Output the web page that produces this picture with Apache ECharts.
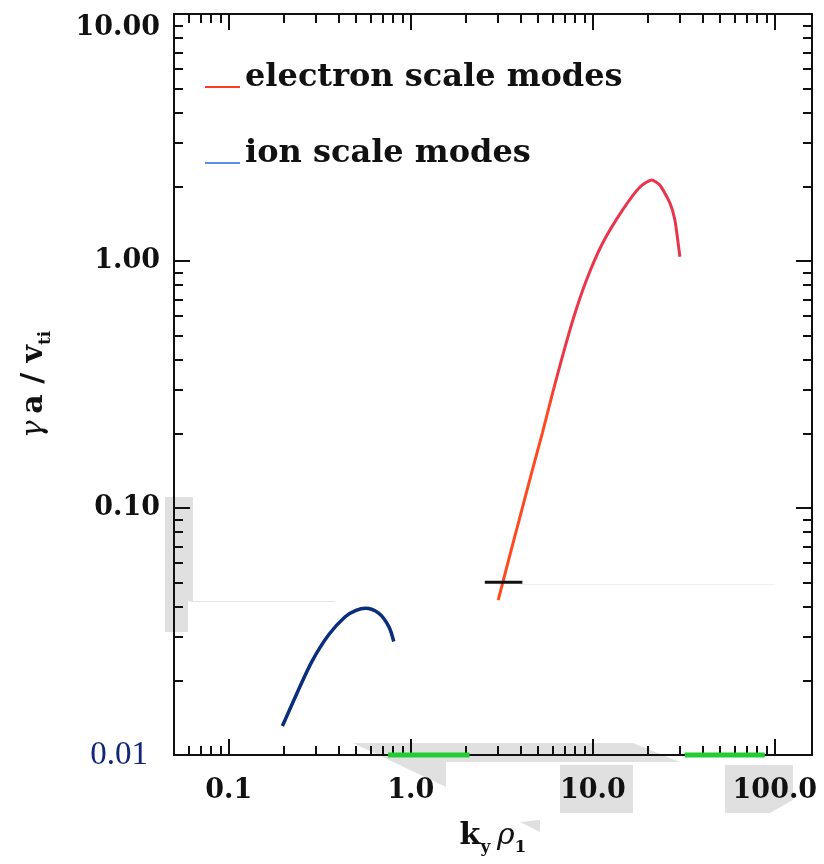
<!DOCTYPE html>
<html>
<head>
<meta charset="utf-8">
<title>growth rates</title>
<script src="https://cdn.jsdelivr.net/npm/echarts@6/dist/echarts.min.js"></script>
<style>
  html, body { margin: 0; padding: 0; background: #fff; }
  #main { width: 824px; height: 864px; }
</style>
</head>
<body>
<div id="main"></div>
<script>
// axis ranges and ticks
var xRange = [0.05, 160];
var yRange = [0.01, 10];
var xMajor = [0.1, 1, 10, 100];
var xMinor = [0.06, 0.07, 0.08, 0.09, 0.2, 0.3, 0.4, 0.5, 0.6, 0.7, 0.8, 0.9,
              2, 3, 4, 5, 6, 7, 8, 9, 20, 30, 40, 50, 60, 70, 80, 90];
var yMajor = [0.01, 0.1, 1, 10];
var yMinor = [0.02, 0.03, 0.04, 0.05, 0.06, 0.07, 0.08, 0.09,
              0.2, 0.3, 0.4, 0.5, 0.6, 0.7, 0.8, 0.9,
              2, 3, 4, 5, 6, 7, 8, 9];

// ion scale modes
var ionK     = [0.197, 0.241, 0.286, 0.353, 0.436, 0.50, 0.563, 0.666, 0.757, 0.806];
var ionGamma = [0.0131, 0.0183, 0.0239, 0.0306, 0.0363, 0.0385, 0.0393, 0.0375, 0.0331, 0.0288];

// electron scale modes
var elecK     = [3.02, 3.47, 3.99, 4.59, 5.28, 5.99, 6.72, 7.83, 9.23, 11.31, 14.58, 18.1, 21.08, 23.33, 26.49, 28.22, 30.08];
var elecGamma = [0.0424, 0.0628, 0.0928, 0.137, 0.201, 0.289, 0.397, 0.588, 0.838, 1.18, 1.61, 1.99, 2.13, 2.03, 1.72, 1.47, 1.04];

// black marker and green ranges on the axis
var markK = [2.55, 4.1];
var markGamma = [0.05, 0.05];
var band1K = [0.75, 2.1];
var band2K = [32, 88];
var bandGamma = [0.01, 0.01];

function pairs(xs, ys) {
    return xs.map(function (x, i) { return [x, ys[i]]; });
}

var serif = 'DejaVu Serif';
var black = '#111';

function logAxis(range, pos, values, len, showLine, label) {
    return {
        type: 'log',
        min: range[0],
        max: range[1],
        position: pos,
        axisLine: { show: showLine, onZero: false, lineStyle: { color: black, width: 2 } },
        axisTick: { show: true, inside: true, length: len, customValues: values,
                    lineStyle: { color: black, width: 2 } },
        axisLabel: label || { show: false },
        splitLine: { show: false },
        minorTick: { show: false }
    };
}

var xLabel = {
    show: true,
    customValues: xMajor,
    margin: 22,
    color: black,
    fontFamily: serif,
    fontWeight: 'bold',
    fontSize: 27,
    formatter: function (v) { return v.toFixed(1); }
};
var yLabel = {
    show: true,
    customValues: yMajor,
    margin: 14,
    color: black,
    fontFamily: serif,
    fontWeight: 'bold',
    fontSize: 27,
    verticalAlignMaxLabel: 'top',
    formatter: function (v) {
        if (Math.abs(v - 0.01) < 1e-9) return '{b|0.01}';
        return v.toFixed(2);
    },
    rich: {
        b: { color: '#14267a', fontFamily: 'Liberation Serif', fontWeight: 'normal', fontSize: 33, padding: [0, 12, 0, 0] }
    }
};

var xBottom = logAxis(xRange, 'bottom', xMajor, 16, true, xLabel);
xBottom.name = '{k|k}{s|y}  {r|ρ}{s|1}';
xBottom.nameLocation = 'middle';
xBottom.nameGap = 61;
xBottom.nameTextStyle = {
    rich: {
        k: { fontFamily: serif, fontWeight: 'bold', fontSize: 30, color: black, lineHeight: 40 },
        r: { fontFamily: serif, fontStyle: 'italic', fontSize: 30, color: black, lineHeight: 40 },
        s: { fontFamily: serif, fontWeight: 'bold', fontSize: 17, color: black, verticalAlign: 'bottom', lineHeight: 18 }
    }
};

var yLeft = logAxis(yRange, 'left', yMajor, 16, true, yLabel);
yLeft.name = '{g|γ}  {n|a / v}{s|ti}';
yLeft.nameLocation = 'middle';
yLeft.nameRotate = 90;
yLeft.nameGap = 120;
yLeft.nameTextStyle = {
    rich: {
        g: { fontFamily: serif, fontStyle: 'italic', fontSize: 30, color: black, lineHeight: 40 },
        n: { fontFamily: serif, fontWeight: 'bold', fontSize: 30, color: black, lineHeight: 40 },
        s: { fontFamily: serif, fontWeight: 'bold', fontSize: 17, color: black, verticalAlign: 'bottom', lineHeight: 18 }
    }
};

var gray = '#e0e0e0';
function poly(pts, fill) {
    return { type: 'polygon', z: -10, silent: true, shape: { points: pts }, style: { fill: fill || gray } };
}
function hline(x1, x2, y, c) {
    return { type: 'line', z: -10, silent: true, shape: { x1: x1, y1: y, x2: x2, y2: y }, style: { stroke: c, lineWidth: 1 } };
}

var myChart = echarts.init(document.getElementById('main'));

var option = {
    backgroundColor: '#fff',
    animation: false,
    grid: { left: 174, right: 12, top: 14, bottom: 109, outerBoundsMode: 'none', containLabel: false },
    legend: {
        orient: 'vertical',
        left: 200,
        top: 57,
        itemGap: 26,
        itemWidth: 35,
        itemHeight: 2,
        icon: 'rect',
        formatter: '{t|{name}}',
        textStyle: {
            fontFamily: serif, fontWeight: 'bold', fontSize: 32, color: black,
            rich: {
                t: { fontFamily: serif, fontWeight: 'bold', fontSize: 32, color: black,
                     lineHeight: 34, padding: [0, 0, 18, 0] }
            }
        },
        data: [
            { name: 'electron scale modes', itemStyle: { color: '#ff3b1f' } },
            { name: 'ion scale modes', itemStyle: { color: '#5b8cf0' } }
        ]
    },
    graphic: [
        poly([[165, 497], [193, 497], [193, 601], [188, 601], [188, 632], [165, 632]]),
        hline(190, 335, 601.5, '#e4e4e4'),
        hline(520, 775, 584.5, '#f0f0f0'),
        poly([[353, 743], [633, 743], [680, 762], [446, 762], [446, 787]]),
        poly([[560, 765], [633, 765], [633, 813], [560, 813]]),
        poly([[725, 765], [793, 765], [793, 800], [770, 813], [725, 813]]),
        poly([[520, 822], [540, 820], [540, 832]])
    ],
    xAxis: [
        xBottom,
        logAxis(xRange, 'bottom', xMinor, 9, false),
        logAxis(xRange, 'top', xMajor, 16, true),
        logAxis(xRange, 'top', xMinor, 9, false)
    ],
    yAxis: [
        yLeft,
        logAxis(yRange, 'left', yMinor, 9, false),
        logAxis(yRange, 'right', yMajor, 16, true),
        logAxis(yRange, 'right', yMinor, 9, false)
    ],
    series: [
        {
            name: 'electron scale modes',
            type: 'line',
            data: pairs(elecK, elecGamma),
            smooth: 0.2,
            showSymbol: false,
            lineStyle: {
                width: 3,
                color: new echarts.graphic.LinearGradient(0, 0, 0, 1, [
                    { offset: 0, color: '#e8344e' },
                    { offset: 0.45, color: '#ec3846' },
                    { offset: 0.55, color: '#ff4a22' },
                    { offset: 1, color: '#ff4a1e' }
                ])
            }
        },
        {
            name: 'ion scale modes',
            type: 'line',
            data: pairs(ionK, ionGamma),
            smooth: 0.3,
            showSymbol: false,
            lineStyle: { width: 3.5, color: '#0a2d7e' }
        },
        {
            type: 'line',
            data: pairs(markK, markGamma),
            showSymbol: false,
            lineStyle: { width: 3, color: black }
        },
        {
            type: 'line',
            data: pairs(band1K, bandGamma),
            showSymbol: false,
            clip: false,
            lineStyle: { width: 5, color: '#22cc33' }
        },
        {
            type: 'line',
            data: pairs(band2K, bandGamma),
            showSymbol: false,
            clip: false,
            lineStyle: { width: 5, color: '#22cc33' }
        }
    ]
};

myChart.setOption(option);
</script>
</body>
</html>
